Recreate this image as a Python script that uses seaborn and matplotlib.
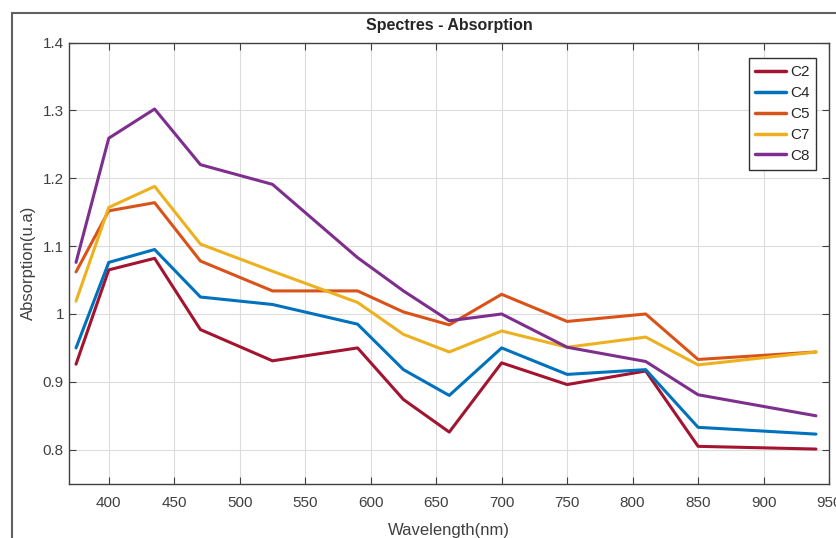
import pandas as pd
import matplotlib
matplotlib.use("Agg")
import matplotlib.pyplot as plt
from matplotlib.patches import Rectangle
import seaborn as sns

wavelength = [375, 400, 435, 470, 525, 590, 625, 660, 700, 750, 810, 850, 940]
c2 = [0.926, 1.065, 1.082, 0.977, 0.931, 0.950, 0.874, 0.826, 0.928, 0.896, 0.916, 0.805, 0.801]
c4 = [0.950, 1.076, 1.095, 1.025, 1.014, 0.985, 0.918, 0.880, 0.950, 0.911, 0.918, 0.833, 0.823]
c5 = [1.062, 1.152, 1.164, 1.078, 1.034, 1.034, 1.003, 0.984, 1.029, 0.989, 1.000, 0.933, 0.944]
c7 = [1.019, 1.157, 1.188, 1.103, 1.063, 1.017, 0.970, 0.944, 0.975, 0.951, 0.966, 0.925, 0.944]
c8 = [1.076, 1.259, 1.302, 1.220, 1.191, 1.083, 1.034, 0.990, 1.000, 0.951, 0.930, 0.881, 0.850]

series = {"C2": c2, "C4": c4, "C5": c5, "C7": c7, "C8": c8}
colors = ["#A2142F", "#0072BD", "#D95319", "#EDB120", "#7E2F8E"]

rows = []
for name, vals in series.items():
    for w, v in zip(wavelength, vals):
        rows.append({"wavelength": w, "absorption": v, "sample": name})
df = pd.DataFrame(rows)

sns.set_style("whitegrid")
plt.rcParams["font.family"] = ["Liberation Sans", "DejaVu Sans"]

fig = plt.figure(figsize=(8.37, 5.38), dpi=100)
ax = fig.add_axes([0.083, 0.101, 0.9075, 0.820])

sns.lineplot(data=df, x="wavelength", y="absorption", hue="sample",
             palette=colors, linewidth=2.2, ax=ax)

ax.set_xlim(370, 950)
ax.set_ylim(0.75, 1.4)
ax.set_xticks(range(400, 951, 50))
ax.set_yticks([0.8, 0.9, 1.0, 1.1, 1.2, 1.3, 1.4])
ax.set_yticklabels(["0.8", "0.9", "1", "1.1", "1.2", "1.3", "1.4"])
ax.grid(True, color="#dcdcdc", linewidth=0.8)
ax.tick_params(direction="in", length=5, color="#404040", labelcolor="#404040",
               labelsize=11, top=True, right=True, bottom=True, left=True,
               labeltop=False, labelright=False)
ax.tick_params(axis="x", pad=9)
ax.tick_params(axis="y", pad=4)
for s in ax.spines.values():
    s.set_color("#404040")
    s.set_linewidth(1.0)

ax.set_title("Spectres - Absorption", fontsize=11.5, fontweight="bold", pad=9)
ax.set_xlabel("Wavelength(nm)", fontsize=12, color="#404040", labelpad=9)
ax.set_ylabel("Absorption(u.a)", fontsize=12, color="#404040", labelpad=5)

leg = ax.legend(loc="upper right", bbox_to_anchor=(0.983, 0.964), borderaxespad=0,
                fontsize=11, handlelength=2.0, handletextpad=0.25,
                labelspacing=0.45, fancybox=False, framealpha=1,
                borderpad=0.45)
leg.get_frame().set_edgecolor("#303030")
leg.get_frame().set_linewidth(1.0)
for line in leg.get_lines():
    line.set_linewidth(2.5)

fig.patches.append(Rectangle((12 / 837, -0.2), 1.2, 1.2 - 13 / 538,
                             transform=fig.transFigure, fill=False,
                             edgecolor="#606060", linewidth=1.5))

fig.savefig("out.png", dpi=100)
